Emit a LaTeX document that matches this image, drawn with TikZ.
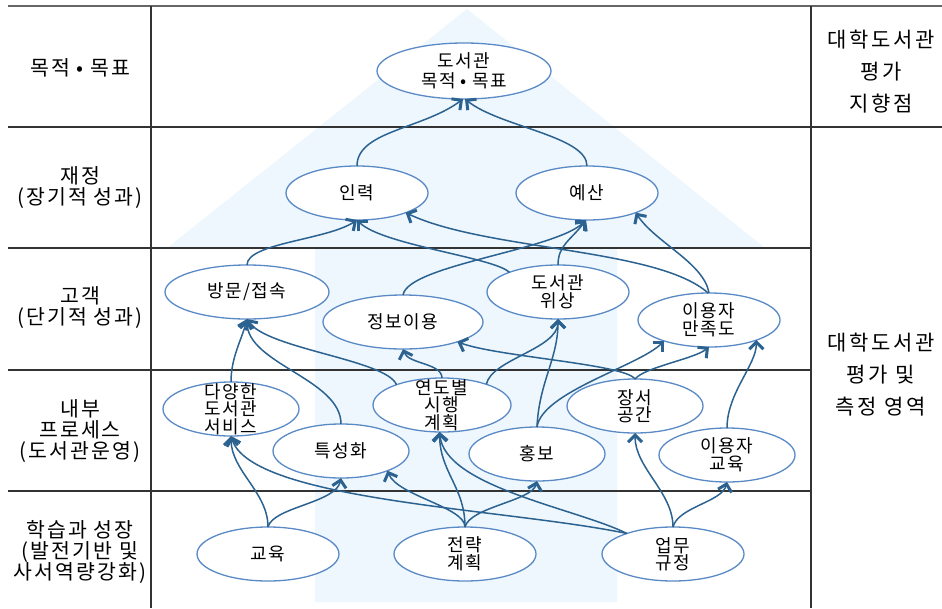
\documentclass[tikz,border=0pt]{standalone}
\usepackage{fontspec}
\setmainfont{Noto Sans CJK KR}
\newfontfamily\elfont{Noto Sans CJK KR}[LetterSpace=7]
\newfontfamily\lbfont{Noto Sans CJK KR}[LetterSpace=10]
\newfontfamily\rtfont{Noto Sans CJK KR}[LetterSpace=13]
\usetikzlibrary{shapes.geometric,arrows.meta}
\definecolor{ellc}{HTML}{5A8AC6}
\definecolor{conc}{HTML}{2B6290}
\definecolor{bgc}{HTML}{EEF7FD}
\definecolor{gridc}{HTML}{333333}
\definecolor{topc}{HTML}{666666}
\tikzset{
  elp/.style={ellipse, draw=ellc, line width=1.3pt, fill=white, inner sep=0pt, outer sep=0pt,
              minimum width=136pt, minimum height=54pt},
  eltxt/.style={align=center, inner sep=0pt, text=black, font=\elfont\fontsize{18}{17.5}\selectfont},
  lab/.style={label={[eltxt]center:#1}},
  con/.style={draw=conc, line width=1.5pt, -{Straight Barb[length=7pt,width=14pt,line width=3pt]}},
  rowlab/.style={align=center, inner sep=0pt, font=\lbfont\fontsize{20.5}{21}\selectfont},
  rightlab/.style={align=center, inner sep=0pt, font=\rtfont\fontsize{21}{32}\selectfont},
  gridline/.style={draw=gridc, line width=1.3pt},
  topline/.style={draw=topc, line width=2.2pt}
}
\begin{document}
\begin{tikzpicture}[x=1pt,y=-1pt]
\useasboundingbox (0,0) rectangle (942,608);
\fill[white] (0,0) rectangle (942,608);
% background arrow
\fill[bgc] (315,602) -- (315,248) -- (167,248) -- (467,9) -- (765,248) -- (617,248) -- (617,602) -- cycle;
% table
\draw[topline] (8,6) -- (942,6);
\draw[gridline] (8,127) -- (942,127);
\draw[gridline] (8,248) -- (811,248);
\draw[gridline] (8,370) -- (811,370);
\draw[gridline] (8,491) -- (811,491);
\draw[gridline] (151,6) -- (151,608);
\draw[gridline] (811,6) -- (811,608);
% row labels
\node[rowlab] (r1) at (80,68) {목적 • 목표};
\node[rowlab] (r2) at (80,188) {재정\\(장기적 성과)};
\node[rowlab] (r3) at (80,308) {고객\\(단기적 성과)};
\node[rowlab] (r4) at (80,431) {내부\\프로세스\\(도서관운영)};
\node[rowlab] (r5) at (80,552) {학습과 성장\\(발전기반 및\\사서역량강화)};
\node[rightlab] (c1) at (881,72) {대학도서관\\평가\\지향점};
\node[rightlab] (c2) at (881,375) {대학도서관\\평가 및\\측정 영역};
% ellipses
\node[elp, minimum width=174pt, minimum height=56pt,
      label={[eltxt,font=\elfont\fontsize{18}{20}\selectfont]center:도서관\\목적 • 목표}] (goal) at (464,71) {};
\node[elp, minimum width=142pt, lab={인력}] (inr) at (357,193) {};
\node[elp, minimum width=142pt, lab={예산}] (yes) at (587,193) {};
\node[elp, minimum width=164pt, lab={방문/접속}] (bang) at (247,292) {};
\node[elp, minimum width=160pt, lab={정보이용}] (info) at (403,322) {};
\node[elp, minimum width=142pt, lab={도서관\\위상}] (wis) at (558,292) {};
\node[elp, minimum width=142pt, lab={이용자\\만족도}] (sat) at (709,320) {};
\node[elp, lab={다양한\\도서관\\서비스}] (div) at (231,409) {};
\node[elp, minimum width=138pt, lab={연도별\\시행\\계획}] (plan) at (442,405) {};
\node[elp, lab={특성화}] (spec) at (341,451) {};
\node[elp, lab={홍보}] (pr) at (537,454) {};
\node[elp, lab={장서\\공간}] (col) at (635,406) {};
\node[elp, lab={이용자\\교육}] (ued) at (727,455) {};
\node[elp, minimum width=142pt, lab={교육}] (edu) at (268,554) {};
\node[elp, minimum width=142pt, lab={전략\\계획}] (str) at (465,554) {};
\node[elp, minimum width=142pt, lab={업무\\규정}] (rule) at (673,554) {};
% connectors: row 2 -> row 1
\draw[con] (inr.90) .. controls +(0,-35) and +(-40,30) .. (goal.268);
\draw[con] (yes.90) .. controls +(0,-30) and +(35,28) .. (goal.272);
% row 3 -> row 2
\draw[con] (bang.90) .. controls +(0,-22) and +(-30,20) .. (inr.270);
\draw[con] (wis.158) .. controls +(-15,-15) and +(25,25) .. (inr.270);
\draw[con] (sat.92) .. controls +(-50,-45) and +(80,38) .. (inr.338);
\draw[con] (info.90) .. controls +(5,-30) and +(-30,30) .. (yes.268);
\draw[con] (wis.90) .. controls +(0,-20) and +(-15,20) .. (yes.268);
\draw[con] (sat.90) .. controls +(-5,-30) and +(20,30) .. (yes.338);
% row 4 -> row 3
\draw[con] (div.90) .. controls +(0,-25) and +(-5,20) .. (bang.270);
\draw[con] (spec.90) .. controls +(0,-45) and +(0,45) .. (bang.270);
\draw[con] (plan.156) .. controls +(-10,-25) and +(20,30) .. (bang.270);
\draw[con] (plan.90) .. controls +(0,-15) and +(5,15) .. (info.270);
\draw[con] (col.90) .. controls +(-10,-15) and +(40,15) .. (info.340);
\draw[con] (plan.25) .. controls +(5,-25) and +(0,30) .. (wis.270);
\draw[con] (pr.90) .. controls +(2,-45) and +(0,40) .. (wis.270);
\draw[con] (pr.90) .. controls +(5,-35) and +(-25,25) .. (sat.205);
\draw[con] (col.90) .. controls +(10,-12) and +(-15,12) .. (sat.270);
\draw[con] (ued.90) .. controls +(0,-35) and +(0,25) .. (sat.337);
% row 5 -> row 4
\draw[con] (edu.90) .. controls +(0,-35) and +(0,35) .. (div.270);
\draw[con] (edu.90) .. controls +(5,-20) and +(-5,25) .. (spec.270);
\draw[con] (rule.156) .. controls +(-120,-25) and +(20,65) .. (div.270);
\draw[con] (str.90) .. controls +(0,-20) and +(10,25) .. (spec.337);
\draw[con] (str.90) .. controls +(0,-40) and +(0,40) .. (plan.265);
\draw[con] (str.90) .. controls +(5,-20) and +(-5,20) .. (pr.270);
\draw[con] (rule.156) .. controls +(-50,-25) and +(5,55) .. (plan.265);
\draw[con] (rule.90) .. controls +(0,-35) and +(0,35) .. (col.270);
\draw[con] (rule.90) .. controls +(5,-20) and +(-5,20) .. (ued.270);
\end{tikzpicture}
\end{document}
